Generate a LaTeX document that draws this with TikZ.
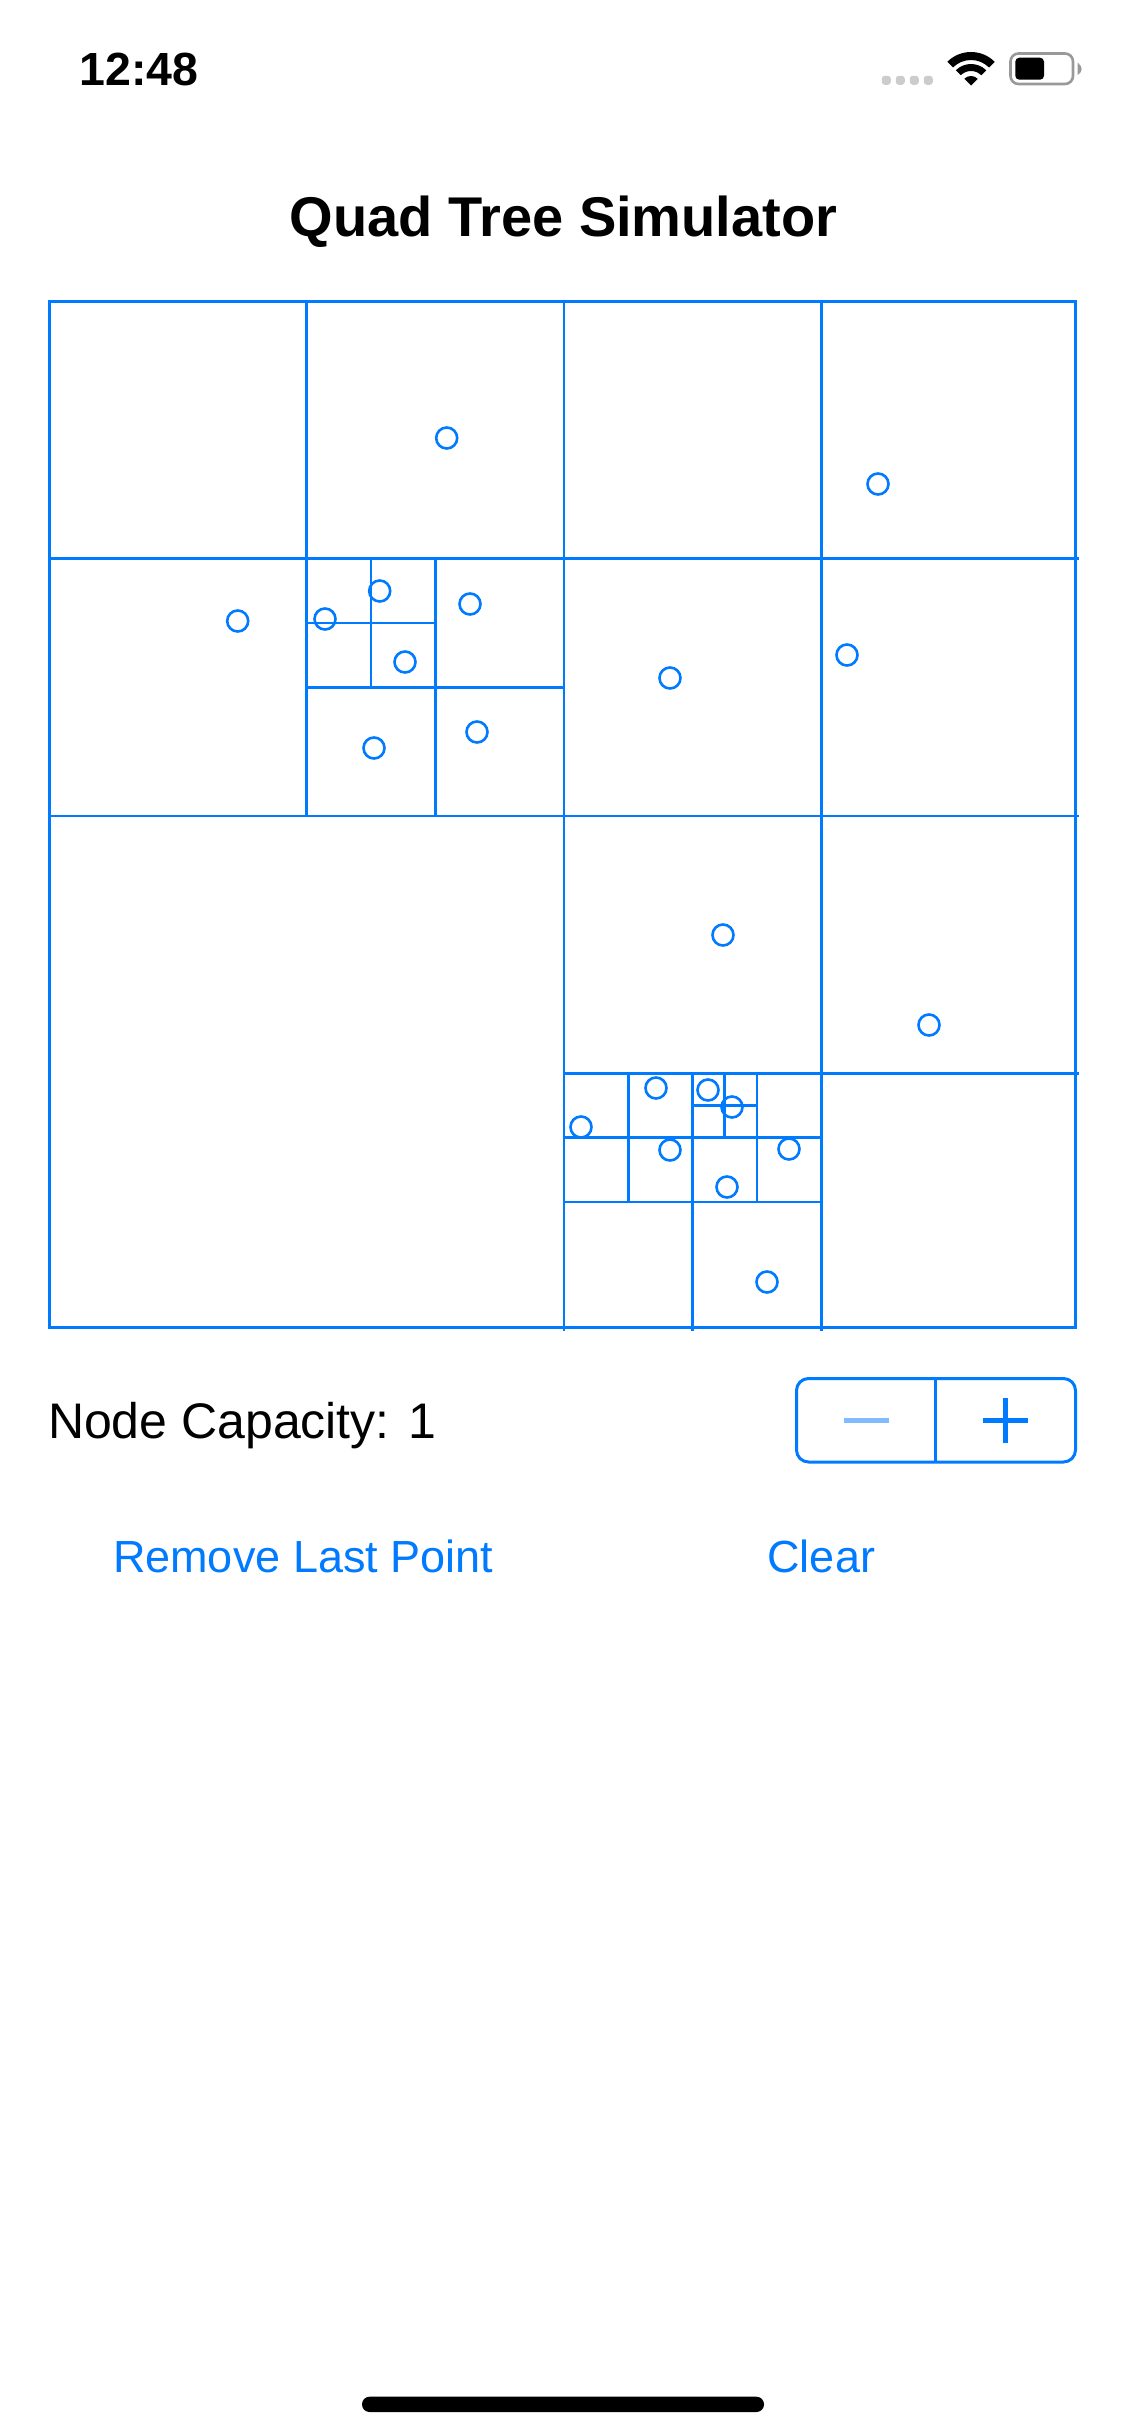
\documentclass[tikz,border=0pt]{standalone}
\usepackage{fontspec}
\setmainfont{Liberation Sans}
\definecolor{iosblue}{HTML}{007AFF}
\definecolor{iosblueL}{HTML}{80BCFF}
\definecolor{dotgray}{HTML}{CCCCCC}
\definecolor{batgray}{HTML}{999999}
\tikzset{
  label base/.style={inner sep=0pt,outer sep=0pt},
  titletext/.style={label base,anchor=base,font=\fontsize{56}{60}\bfseries\selectfont},
  clocktext/.style={label base,anchor=base west,font=\fontsize{46.5}{50}\bfseries\selectfont},
  captext/.style={label base,anchor=base west,font=\fontsize{50}{54}\selectfont},
  linktext/.style={label base,anchor=base west,text=iosblue,font=\fontsize{45}{50}\selectfont},
  frameline/.style={draw=iosblue,line width=3pt},
  cell/.style={draw=iosblue,line width=2.6pt},
  ptmark/.style={draw=iosblue,line width=2.6pt,fill=none},
  glyph/.style={fill=iosblue},
}
\newcommand{\ptat}[2]{\draw[ptmark] (#1,#2) circle[radius=10.5pt];}
\begin{document}
\begin{tikzpicture}[x=1pt,y=-1pt]
\useasboundingbox (0,0) rectangle (1125,2436);
\fill[white] (0,0) rectangle (1125,2436);
% status bar
\node[clocktext] (clock) at (79.5,85) {12:48};
\foreach \x in {886.3,900.3,914.3,928.3}
  \fill[dotgray,rounded corners=3pt] (\x-4.5,75.8) rectangle (\x+4.5,84.8);
\begin{scope}[shift={(971,85.5)},y=1pt]
  \fill (45:33.5) arc[start angle=45,end angle=135,radius=33.5] -- (135:25.5) arc[start angle=135,end angle=45,radius=25.5] -- cycle;
  \fill (45:21.5) arc[start angle=45,end angle=135,radius=21.5] -- (135:14.5) arc[start angle=135,end angle=45,radius=14.5] -- cycle;
  \fill (0,0) -- (45:9.5) arc[start angle=45,end angle=135,radius=9.5] -- cycle;
\end{scope}
\draw[batgray,line width=2.6pt,rounded corners=8pt] (1010.5,53.5) rectangle (1073,84);
\fill[black,rounded corners=4pt] (1015.3,57.7) rectangle (1044,79.7);
\fill[batgray] (1077.7,62.7) .. controls (1080,64.5) and (1081.7,66.5) .. (1081.7,69) .. controls (1081.7,71.5) and (1080,73.5) .. (1077.7,75) -- cycle;
% title
\node[titletext] (title) at (563.5,236.5) {Quad Tree Simulator};
% quad tree: level lines (unit = 128.625 px, origin 49.5, 301.5)
\begin{scope}[shift={(49.5,301.5)},x=128.625pt,y=-128.625pt]
  \foreach \xa/\ya/\yb in {4/0/8, 2/0/4, 6/0/4, 3/2/4, 2.5/2/3, 6/4/8, 5/6/8, 4.5/6/7, 5.5/6/7, 5.25/6/6.5}
    \draw[cell] (\xa,\ya) -- (\xa,\yb);
  \foreach \yc/\xb/\xc in {4/0/8, 2/0/8, 3/2/4, 2.5/2/3, 6/4/8, 7/4/6, 6.5/4/5, 6.5/5/6, 6.25/5/5.5}
    \draw[cell] (\xb,\yc) -- (\xc,\yc);
\end{scope}
\draw[frameline] (49.5,301.5) rectangle (1075.5,1327.5);
% points
\ptat{446.7}{438}\ptat{878}{484}\ptat{237.7}{621}\ptat{379.7}{591}\ptat{325}{619}
\ptat{470}{604}\ptat{405}{662}\ptat{477}{732}\ptat{374}{748}\ptat{670}{678}\ptat{847}{655}
\ptat{723}{935}\ptat{929}{1025}\ptat{656}{1088}\ptat{708}{1090}\ptat{732}{1107}
\ptat{581}{1127}\ptat{670}{1150}\ptat{789}{1149}\ptat{727}{1187}\ptat{767}{1282}
% controls
\node[captext] (capacity) at (48,1438) {Node Capacity: 1};
\draw[frameline,rounded corners=12pt] (796.5,1378.5) rectangle (1075.5,1462);
\draw[cell] (935.7,1378.5) -- (935.7,1462);
\fill[iosblueL] (844,1418) rectangle (889,1423);
\fill[glyph] (983,1418) rectangle (1028,1423);
\fill[glyph] (1003,1398) rectangle (1008,1443);
\node[linktext] (remove) at (113,1572.7) {Remove Last Point};
\node[linktext] (clear) at (767.5,1572.7) {Clear};
% home indicator
\fill[black,rounded corners=7.5pt] (362,2396.7) rectangle (764,2412);
\end{tikzpicture}
\end{document}
